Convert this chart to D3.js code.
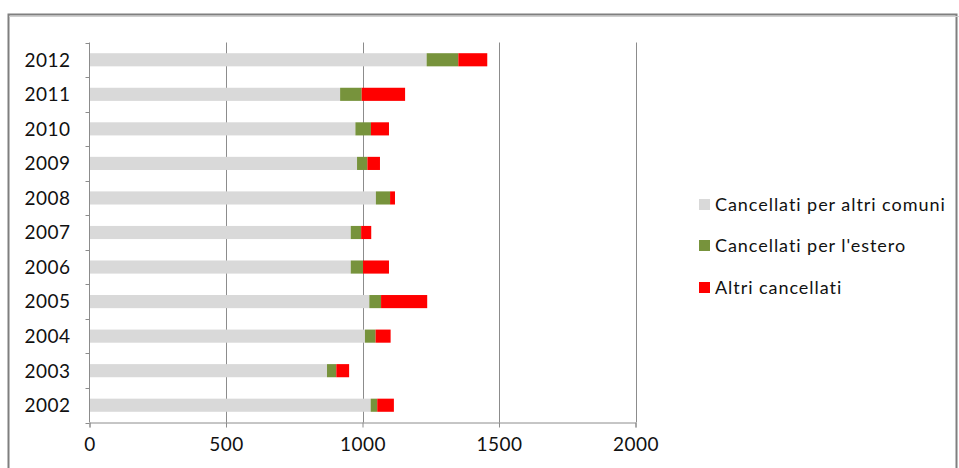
<!DOCTYPE html>
<html>
<head>
<meta charset="utf-8">
<script src="https://cdn.jsdelivr.net/npm/d3@7"></script>
<style>
  html, body { margin: 0; padding: 0; background: #fff; }
  svg { display: block; font-family: Lato, "Open Sans", sans-serif; }
</style>
</head>
<body>
<svg id="chart" width="959" height="468"></svg>
<script>
// Cancellazioni anagrafiche per anno
const years = ["2012","2011","2010","2009","2008","2007","2006","2005","2004","2003","2002"];
const altriComuni = [1235, 918, 974, 980, 1049, 957, 957, 1025, 1009, 870, 1030];
const estero      = [116,   79,  57,  38,   52,  38,  45,   43,   39,  34,   24];
const altri       = [106,  159,  66,  46,   18,  37,  95,  169,   55,  47,   61];
const seriesNames = ["Cancellati per altri comuni", "Cancellati per l'estero", "Altri cancellati"];
const seriesColors = ["#d9d9d9", "#77933c", "#ff0000"];
const xTicks = [0, 500, 1000, 1500, 2000];

const svg = d3.select("#chart");

// outer frame
svg.append("rect")
  .attr("x", 8.5).attr("y", 14.5)
  .attr("width", 948).attr("height", 470)
  .attr("fill", "none").attr("stroke", "#7f7f7f").attr("stroke-width", 2);
svg.append("line")
  .attr("x1", 9).attr("x2", 959).attr("y1", 16.5).attr("y2", 16.5)
  .attr("stroke", "#cfcfcf").attr("stroke-width", 1);

const x = d3.scaleLinear().domain([0, 2000]).range([89.5, 635.5]);
const y = d3.scaleBand().domain(years).range([42.5, 422.5]).padding(0);
const barH = y.bandwidth() * 0.38;

// vertical gridlines
svg.append("g").selectAll("line")
  .data(xTicks.slice(1))
  .join("line")
  .attr("x1", d => Math.round(x(d)) + 0.5).attr("x2", d => Math.round(x(d)) + 0.5)
  .attr("y1", 42.5).attr("y2", 422.5)
  .attr("stroke", "#8c8c8c").attr("stroke-width", 1);

// stacked bars
const rows = years.map((yr, i) => ({ yr, vals: [altriComuni[i], estero[i], altri[i]] }));
const stack = svg.append("g");
rows.forEach(r => {
  let acc = 0;
  r.vals.forEach((v, k) => {
    stack.append("rect")
      .attr("x", x(acc))
      .attr("y", y(r.yr) + (y.bandwidth() - barH) / 2)
      .attr("width", x(acc + v) - x(acc))
      .attr("height", barH)
      .attr("fill", seriesColors[k]);
    acc += v;
  });
});

// x axis
const xAxis = svg.append("g")
  .attr("transform", "translate(0,422.5)")
  .call(d3.axisBottom(x).tickValues(xTicks).tickSize(5).tickPadding(10).tickFormat(d3.format("d")));
xAxis.select(".domain").attr("stroke", "#8c8c8c");
xAxis.selectAll(".tick line").attr("stroke", "#8c8c8c");
xAxis.selectAll("text")
  .attr("font-family", "Lato, sans-serif").attr("font-size", 19)
  .attr("fill", "#111").attr("letter-spacing", 0.5);

// y axis: ticks at band boundaries
const yAxis = svg.append("g").attr("transform", "translate(89.5,0)");
yAxis.append("line")
  .attr("y1", 42.5).attr("y2", 422.5)
  .attr("stroke", "#8c8c8c");
const bounds = years.map(d => y(d)).concat([y(years[years.length - 1]) + y.bandwidth()]);
yAxis.selectAll("line.t").data(bounds).join("line")
  .attr("class", "t")
  .attr("x1", -4).attr("x2", 0)
  .attr("y1", d => Math.round(d) + 0.5).attr("y2", d => Math.round(d) + 0.5)
  .attr("stroke", "#8c8c8c");
yAxis.selectAll("text").data(years).join("text")
  .attr("x", -19)
  .attr("y", d => y(d) + y.bandwidth() / 2)
  .attr("dy", "0.36em")
  .attr("text-anchor", "end")
  .attr("font-size", 19)
  .attr("fill", "#111")
  .attr("letter-spacing", 0.5)
  .text(d => d);

// legend
const legendY = [205, 246, 288];
const legend = svg.append("g");
seriesNames.forEach((name, k) => {
  legend.append("rect")
    .attr("x", 699).attr("y", legendY[k] - 6)
    .attr("width", 11).attr("height", 11)
    .attr("fill", seriesColors[k]);
  legend.append("text")
    .attr("x", 715).attr("y", legendY[k])
    .attr("dy", "0.36em")
    .attr("font-size", 18)
    .attr("letter-spacing", 0.95)
    .attr("fill", "#111")
    .text(name);
});
</script>
</body>
</html>
